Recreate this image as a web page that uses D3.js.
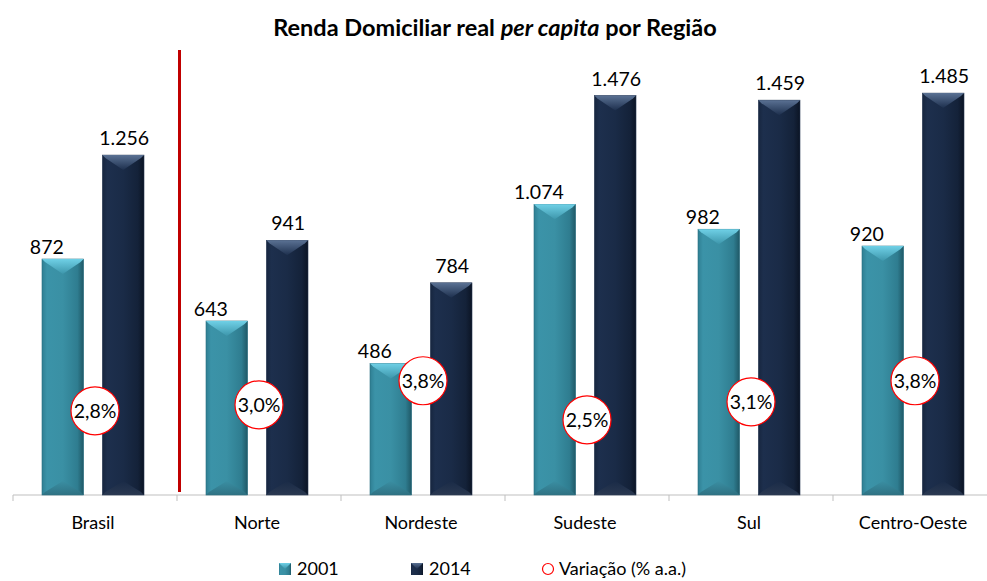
<!DOCTYPE html>
<html>
<head>
<meta charset="utf-8">
<script src="https://cdn.jsdelivr.net/npm/d3@7"></script>
<style>
  body { margin: 0; background: #fff; }
  svg { display: block; font-family: Lato, "Open Sans", sans-serif; }
</style>
</head>
<body>
<svg width="987" height="581"></svg>
<script>
// data
var regions = ["Brasil", "Norte", "Nordeste", "Sudeste", "Sul", "Centro-Oeste"];
var years = ["2001", "2014"];
var renda2001 = [872, 643, 486, 1074, 982, 920];
var renda2014 = [1256, 941, 784, 1476, 1459, 1485];
var variacao = [2.8, 3.0, 3.8, 2.5, 3.1, 3.8];

var svg = d3.select("svg");
var width = 987, height = 581;
var baseY = 495, topY = 62;

var fmtNum = function(v) { return d3.format(",")(v).replace(/,/g, "."); };
var fmtPct = function(v) { return d3.format(".1f")(v).replace(".", ",") + "%"; };

var x = d3.scaleBand().domain(regions).range([13, 997]);
var x1 = d3.scaleBand().domain(years).range([29, 131]).paddingInner(0.31);
var y = d3.scaleLinear().domain([0, 1600]).range([baseY, topY]);
var y2 = d3.scaleLinear().domain([0, 14.4]).range([baseY, topY]);

// gradients
var defs = svg.append("defs");
function hGrad(id, stops) {
    var g = defs.append("linearGradient").attr("id", id)
        .attr("x1", "0").attr("x2", "1").attr("y1", "0").attr("y2", "0");
    stops.forEach(function(s) {
        g.append("stop").attr("offset", s[0]).attr("stop-color", s[1]);
    });
}
function vGrad(id, stops) {
    var g = defs.append("linearGradient").attr("id", id)
        .attr("x1", "0").attr("x2", "0").attr("y1", "0").attr("y2", "1");
    stops.forEach(function(s) {
        g.append("stop").attr("offset", s[0]).attr("stop-color", s[1]);
    });
}
hGrad("body2001", [[0, "#2f7f93"], [0.12, "#3b93a8"], [0.5, "#3a90a4"], [0.85, "#2f7d90"], [1, "#1f5866"]]);
hGrad("body2014", [[0, "#17263f"], [0.12, "#1d2f4d"], [0.5, "#1a2b47"], [0.85, "#142239"], [1, "#0b1424"]]);
vGrad("top2001", [[0, "#6fd0e6"], [1, "#3d96ab"]]);
vGrad("top2014", [[0, "#5a7193"], [1, "#1d2f4d"]]);
vGrad("bot2001", [[0, "#3a8ea2"], [1, "#2e6f80"]]);
vGrad("bot2014", [[0, "#1a2b47"], [1, "#2c3a52"]]);

// title
svg.append("text")
    .attr("x", 495).attr("y", 36)
    .attr("text-anchor", "middle")
    .style("font-size", "23.5px").style("font-weight", "bold").attr("fill", "#000")
    .call(function(t) {
        t.append("tspan").text("Renda Domiciliar real ");
        t.append("tspan").style("font-style", "italic").text("per capita");
        t.append("tspan").text(" por Região");
    });

// axis
var axis = svg.append("g").attr("transform", "translate(0," + baseY + ")");
axis.append("line").attr("x1", 13).attr("x2", width).attr("stroke", "#bfbfbf").attr("stroke-width", 1.2);
axis.selectAll("line.tick")
    .data(regions)
    .enter().append("line")
    .attr("class", "tick")
    .attr("x1", function(d) { return x(d); })
    .attr("x2", function(d) { return x(d); })
    .attr("y1", 0).attr("y2", 6)
    .attr("stroke", "#bfbfbf");
axis.selectAll("text")
    .data(regions)
    .enter().append("text")
    .attr("x", function(d) { return x(d) + x.bandwidth() / 2 - 2; })
    .attr("y", 34)
    .attr("text-anchor", "middle")
    .style("font-size", "18px").attr("fill", "#000")
    .text(function(d) { return d; });

// red divider between Brasil and regions
svg.append("line")
    .attr("x1", x("Norte") + 2.5).attr("x2", x("Norte") + 2.5)
    .attr("y1", 50).attr("y2", baseY - 3)
    .attr("stroke", "#c00000").attr("stroke-width", 3);

// bars
var rows = [];
regions.forEach(function(r, i) {
    rows.push({ region: r, year: "2001", value: renda2001[i] });
    rows.push({ region: r, year: "2014", value: renda2014[i] });
});

var bars = svg.append("g").selectAll("g")
    .data(rows)
    .enter().append("g")
    .attr("transform", function(d) { return "translate(" + (x(d.region) + x1(d.year)) + ",0)"; });

var bw = x1.bandwidth();

bars.append("rect")
    .attr("x", 0).attr("width", bw)
    .attr("y", function(d) { return y(d.value); })
    .attr("height", function(d) { return baseY - y(d.value); })
    .attr("fill", function(d) { return "url(#body" + d.year + ")"; })
    .attr("stroke", function(d) { return d.year === "2001" ? "#2a6f80" : "#263650"; })
    .attr("stroke-width", 0.6);

// top bevel
bars.append("path")
    .attr("d", function(d) {
        var t = y(d.value);
        return "M0," + t + "L" + bw + "," + t + "L" + (bw - 3) + "," + (t + 3) +
            "L" + (bw / 2) + "," + (t + 15) + "L3," + (t + 3) + "Z";
    })
    .attr("fill", function(d) { return "url(#top" + d.year + ")"; });

// bottom bevel
bars.append("path")
    .attr("d", function(d) {
        var b = baseY;
        return "M0," + b + "L" + bw + "," + b + "L" + (bw - 3) + "," + (b - 3) +
            "L" + (bw / 2) + "," + (b - 14) + "L3," + (b - 3) + "Z";
    })
    .attr("fill", function(d) { return "url(#bot" + d.year + ")"; })
    .attr("opacity", 0.9);

// value labels
bars.append("text")
    .attr("x", function(d) { return d.year === "2001" ? bw / 2 - 16 : bw / 2 + 1; })
    .attr("y", function(d) { return y(d.value) - (d.year === "2001" ? 5 : 10); })
    .attr("text-anchor", "middle")
    .style("font-size", "19.5px").attr("fill", "#000")
    .text(function(d) { return fmtNum(d.value); });

// growth bubbles
var bub = svg.append("g").selectAll("g")
    .data(regions)
    .enter().append("g")
    .attr("transform", function(d, i) {
        return "translate(" + (x(d) + x.bandwidth() / 2) + "," + y2(variacao[i]) + ")";
    });
bub.append("circle").attr("r", 24)
    .attr("fill", "#fff").attr("stroke", "#ff0000").attr("stroke-width", 1.2);
bub.append("text")
    .attr("text-anchor", "middle").attr("dy", "0.36em")
    .style("font-size", "19.5px").attr("fill", "#000")
    .text(function(d, i) { return fmtPct(variacao[i]); });

// legend
var legend = svg.append("g").attr("transform", "translate(0,569)");
var legendItems = [
    { label: "2001", x: 279, kind: "2001" },
    { label: "2014", x: 411, kind: "2014" },
    { label: "Variação (% a.a.)", x: 542, kind: "circle" }
];
var li = legend.selectAll("g")
    .data(legendItems)
    .enter().append("g")
    .attr("transform", function(d) { return "translate(" + d.x + ",0)"; });
li.each(function(d) {
    var g = d3.select(this);
    if (d.kind === "circle") {
        g.append("circle").attr("cx", 6).attr("cy", 0).attr("r", 5.5)
            .attr("fill", "#fff").attr("stroke", "#ff0000").attr("stroke-width", 1.2);
    } else {
        g.append("rect").attr("x", 0).attr("y", -6).attr("width", 12).attr("height", 12)
            .attr("fill", "url(#body" + d.kind + ")");
        g.append("path").attr("d", "M0,-6L12,-6L6,0Z").attr("fill", "url(#top" + d.kind + ")");
    }
});
li.append("text")
    .attr("x", function(d) { return d.kind === "circle" ? 17 : 18; })
    .attr("dy", "0.35em")
    .style("font-size", "18px").attr("fill", "#000")
    .text(function(d) { return d.label; });
</script>
</body>
</html>
